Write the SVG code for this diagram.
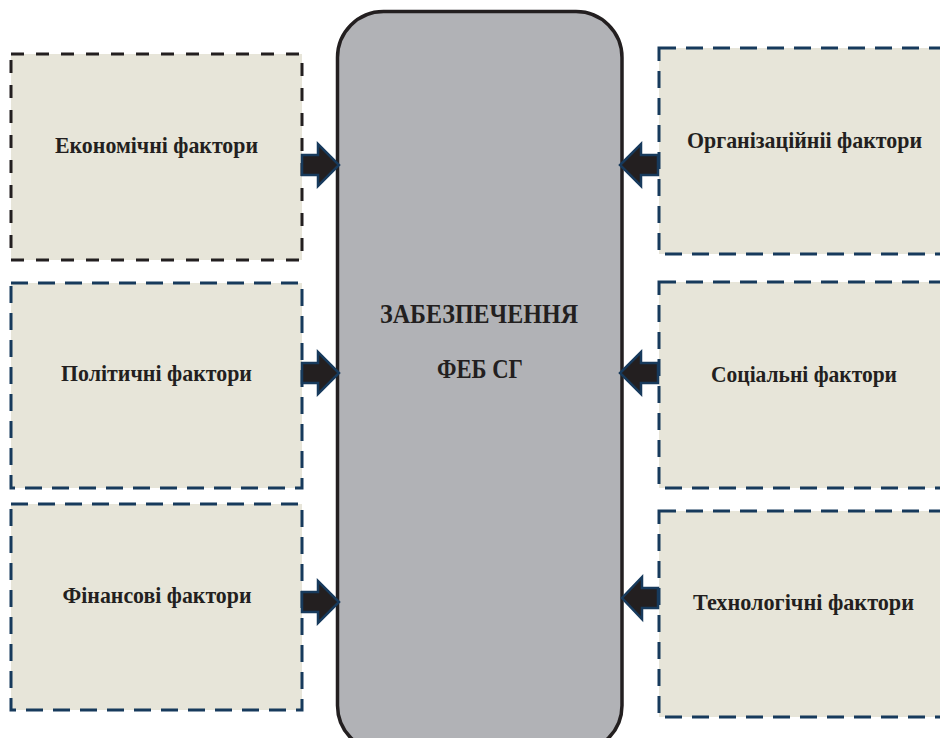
<svg xmlns="http://www.w3.org/2000/svg" width="940" height="738" viewBox="0 0 940 738">
<defs>
<style>
.box{fill:#e7e5d9;stroke-width:3}
.blk{stroke:#231f20;stroke-dasharray:13 12}
.nav{stroke:#173a5c;stroke-dasharray:17 10}
.lbl{font-family:"Liberation Serif","DejaVu Serif",serif;font-weight:bold;font-size:23px;fill:#231f20;text-anchor:middle}
.ctr{font-family:"Liberation Serif","DejaVu Serif",serif;font-weight:bold;font-size:27px;fill:#231f20;text-anchor:middle}
.arr{fill:#231f20;stroke:#173a5c;stroke-width:2.5;stroke-linejoin:miter}
</style>
</defs>
<rect width="940" height="738" fill="#ffffff"/>
<g id="center">
<rect x="337.5" y="11.5" width="284.5" height="740" rx="46" ry="46" fill="#b1b2b6" stroke="#231f20" stroke-width="3.5"/>
<text class="ctr" x="479" y="323" textLength="198" lengthAdjust="spacingAndGlyphs">ЗАБЕЗПЕЧЕННЯ</text>
<text class="ctr" x="480" y="378" textLength="86" lengthAdjust="spacingAndGlyphs">ФЕБ СГ</text>
</g>
<g id="economic">
<rect class="box blk" x="11" y="54" width="291" height="206"/>
<text class="lbl" x="156.5" y="153" textLength="203" lengthAdjust="spacingAndGlyphs">Економічні фактори</text>
</g>
<g id="political">
<rect class="box nav" x="11" y="283" width="291" height="205"/>
<text class="lbl" x="156.5" y="381" textLength="191" lengthAdjust="spacingAndGlyphs">Політичні фактори</text>
</g>
<g id="financial">
<rect class="box nav" x="11" y="504" width="291" height="206"/>
<text class="lbl" x="157" y="603" textLength="189" lengthAdjust="spacingAndGlyphs">Фінансові фактори</text>
</g>
<g id="organizational">
<rect class="box nav" x="659" y="48" width="300" height="206"/>
<text class="lbl" x="804.5" y="148" textLength="235" lengthAdjust="spacingAndGlyphs">Організаційніі фактори</text>
</g>
<g id="social">
<rect class="box nav" x="659" y="282" width="300" height="206"/>
<text class="lbl" x="804" y="382" textLength="186" lengthAdjust="spacingAndGlyphs">Соціальні фактори</text>
</g>
<g id="technological">
<rect class="box nav" x="659" y="511" width="300" height="206"/>
<text class="lbl" x="803.5" y="610" textLength="221" lengthAdjust="spacingAndGlyphs">Технологічні фактори</text>
</g>
<g id="connectors">
<path class="arr" d="M302,155 H318 V144 L339,165 L318,186 V175 H302 Z"/>
<path class="arr" d="M302,363 H318 V352 L339,373 L318,394 V383 H302 Z"/>
<path class="arr" d="M302,592 H318 V581 L339,602 L318,623 V612 H302 Z"/>
<path class="arr" d="M658,155 H641 V144 L620,165 L641,186 V175 H658 Z"/>
<path class="arr" d="M658,363 H641 V352 L620,373 L641,394 V383 H658 Z"/>
<path class="arr" d="M658,588 H642 V577 L622,598 L642,619 V608 H658 Z"/>
</g>
</svg>
